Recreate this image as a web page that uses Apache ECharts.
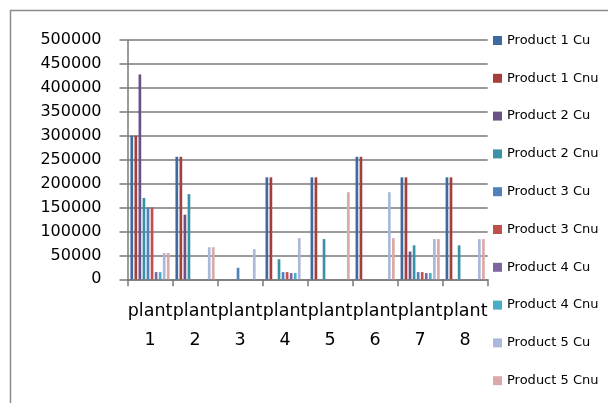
<!DOCTYPE html>
<html>
<head>
<meta charset="utf-8">
<script src="https://cdn.jsdelivr.net/npm/echarts@6/dist/echarts.min.js"></script>
<style>
html,body{margin:0;padding:0;background:#fff;}
#chart{width:608px;height:403px;}
</style>
</head>
<body>
<div id="chart"></div>
<script>
const categories = ['plant 1','plant 2','plant 3','plant 4','plant 5','plant 6','plant 7','plant 8'];
const seriesNames = ['Product 1 Cu','Product 1 Cnu','Product 2 Cu','Product 2 Cnu','Product 3 Cu','Product 3 Cnu','Product 4 Cu','Product 4 Cnu','Product 5 Cu','Product 5 Cnu'];
const product1Cu  = [300000, 256000, 0, 213000, 213000, 256000, 213000, 213000];
const product1Cnu = [300000, 256000, 0, 213000, 213000, 256000, 213000, 213000];
const product2Cu  = [428000, 135000, 0, 0, 0, 0, 58000, 0];
const product2Cnu = [170000, 178000, 0, 42000, 84000, 0, 71000, 71000];
const product3Cu  = [150000, 0, 24000, 15000, 0, 0, 15000, 0];
const product3Cnu = [150000, 0, 0, 15000, 0, 0, 15000, 0];
const product4Cu  = [15000, 0, 0, 13000, 0, 0, 13000, 0];
const product4Cnu = [15000, 0, 0, 13000, 0, 0, 13000, 0];
const product5Cu  = [55000, 67000, 63000, 86000, 0, 182000, 84000, 84000];
const product5Cnu = [55000, 67000, 0, 0, 182000, 86000, 84000, 84000];
const yTicks = [0, 50000, 100000, 150000, 200000, 250000, 300000, 350000, 400000, 450000, 500000];

const allData = [product1Cu, product1Cnu, product2Cu, product2Cnu, product3Cu, product3Cnu, product4Cu, product4Cnu, product5Cu, product5Cnu];
const colors = ['#3E6AA0','#A43F3C','#6A5288','#3A92A6','#4F81BD','#C0504D','#8064A2','#4BACC6','#AAB9D9','#DBA9A8'];

const chart = echarts.init(document.getElementById('chart'), null, {renderer:'canvas'});
const FONT = 'DejaVu Sans';
chart.setOption({
  animation: false,
  backgroundColor: '#fff',
  color: colors,
  graphic: [{
    type: 'rect', silent: true,
    shape: {x: 10.5, y: 10.5, width: 800, height: 600},
    style: {fill: 'none', stroke: '#8c8c8c', lineWidth: 1.5}
  }],
  legend: {
    orient: 'vertical',
    left: 493, top: 34,
    padding: 0,
    itemWidth: 9, itemHeight: 9, itemGap: 24.8,
    icon: 'rect',
    textStyle: {fontFamily: FONT, fontSize: 13, color: '#000', lineHeight: 13},
    data: seriesNames
  },
  grid: {left: 127.5, top: 40, width: 360.2, height: 239.3, containLabel: false},
  xAxis: {
    type: 'category',
    data: categories,
    axisLine: {show: true, lineStyle: {color: '#7a7a7a', width: 1.5}},
    axisTick: {show: true, length: 7, lineStyle: {color: '#7a7a7a', width: 1.5}},
    axisLabel: {
      interval: 0,
      margin: 18,
      fontFamily: FONT, fontSize: 17.5, color: '#000', lineHeight: 29,
      formatter: v => v.replace(' ', '\n')
    }
  },
  yAxis: {
    type: 'value',
    min: yTicks[0], max: yTicks[yTicks.length-1], interval: 50000,
    axisLine: {show: true, lineStyle: {color: '#7a7a7a', width: 1.5}},
    axisTick: {show: true, length: 8, lineStyle: {color: '#7a7a7a', width: 1.5}},
    splitLine: {show: true, lineStyle: {color: '#7a7a7a', width: 1.5}},
    axisLabel: {margin: 26, fontFamily: FONT, fontSize: 16, color: '#000', formatter: v => String(v)}
  },
  series: seriesNames.map((name, i) => ({
    name: name,
    type: 'bar',
    data: allData[i],
    barGap: '50%',
    barCategoryGap: '13%',
    itemStyle: {color: colors[i]}
  }))
});
</script>
</body>
</html>
